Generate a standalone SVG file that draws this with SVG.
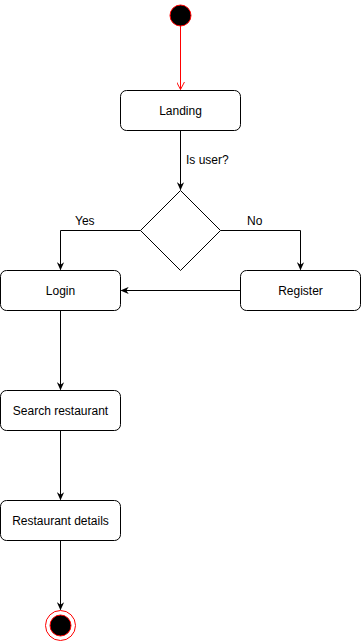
<svg xmlns="http://www.w3.org/2000/svg" width="361" height="641" viewBox="0 0 361 641">
  <style>
    .box { fill: #ffffff; stroke: #000000; stroke-width: 1; }
    .lbl { font-family: "Liberation Sans", Arial, sans-serif; font-size: 12px; fill: #000000; }
    .mid { text-anchor: middle; dominant-baseline: central; }
    .edge { fill: none; stroke: #000000; stroke-width: 1; }
  </style>
  <defs>
    <marker id="block" viewBox="0 0 10 10" refX="9" refY="5" markerWidth="8" markerHeight="8" markerUnits="userSpaceOnUse" orient="auto">
      <path d="M0,0.5 L10,5 L0,9.5 L3,5 Z" fill="#000000"/>
    </marker>
    <marker id="open" viewBox="0 0 10 10" refX="9.5" refY="5" markerWidth="8" markerHeight="8" markerUnits="userSpaceOnUse" orient="auto">
      <path d="M0,0 L9.5,5 L0,10" fill="none" stroke="#ff0000" stroke-width="1.2"/>
    </marker>
  </defs>

  <rect width="361" height="641" fill="#ffffff"/>

  <g id="connectors">
    <path d="M180.5,25.5 L180.5,89.5" fill="none" stroke="#ff0000" marker-end="url(#open)"/>
    <path class="edge" d="M180.5,130.5 L180.5,189.5" marker-end="url(#block)"/>
    <path class="edge" d="M140.5,230.5 L60.5,230.5 L60.5,269.5" marker-end="url(#block)"/>
    <path class="edge" d="M220.5,230.5 L300.5,230.5 L300.5,269.5" marker-end="url(#block)"/>
    <path class="edge" d="M240.5,290.5 L121.5,290.5" marker-end="url(#block)"/>
    <path class="edge" d="M60.5,310.5 L60.5,389.5" marker-end="url(#block)"/>
    <path class="edge" d="M60.5,430.5 L60.5,499.5" marker-end="url(#block)"/>
    <path class="edge" d="M60.5,540.5 L60.5,609.5" marker-end="url(#block)"/>
    <text class="lbl" x="186" y="164">Is user?</text>
    <text class="lbl" x="75" y="225">Yes</text>
    <text class="lbl" x="247" y="225">No</text>
  </g>

  <g id="start">
    <circle cx="180.5" cy="15.5" r="10.5" fill="#000000" stroke="#ff0000" stroke-width="1"/>
  </g>

  <g id="landing">
    <rect class="box" x="120.5" y="90.5" width="120" height="40" rx="6"/>
    <text class="lbl mid" x="180.5" y="110.5">Landing</text>
  </g>

  <g id="decision">
    <path class="box" d="M180.5,190.5 L220.5,230.5 L180.5,270.5 L140.5,230.5 Z"/>
  </g>

  <g id="login">
    <rect class="box" x="0.5" y="270.5" width="120" height="40" rx="6"/>
    <text class="lbl mid" x="60.5" y="290.5">Login</text>
  </g>

  <g id="register">
    <rect class="box" x="240.5" y="270.5" width="120" height="40" rx="6"/>
    <text class="lbl mid" x="300.5" y="290.5">Register</text>
  </g>

  <g id="search">
    <rect class="box" x="0.5" y="390.5" width="120" height="40" rx="6"/>
    <text class="lbl mid" x="60.5" y="410.5">Search restaurant</text>
  </g>

  <g id="details">
    <rect class="box" x="0.5" y="500.5" width="120" height="40" rx="6"/>
    <text class="lbl mid" x="60.5" y="520.5">Restaurant details</text>
  </g>

  <g id="end">
    <circle cx="60.5" cy="625.5" r="15" fill="#ffffff" stroke="#ff0000" stroke-width="1"/>
    <circle cx="60.5" cy="625.5" r="10.5" fill="#000000" stroke="#ff0000" stroke-width="1"/>
  </g>
</svg>
